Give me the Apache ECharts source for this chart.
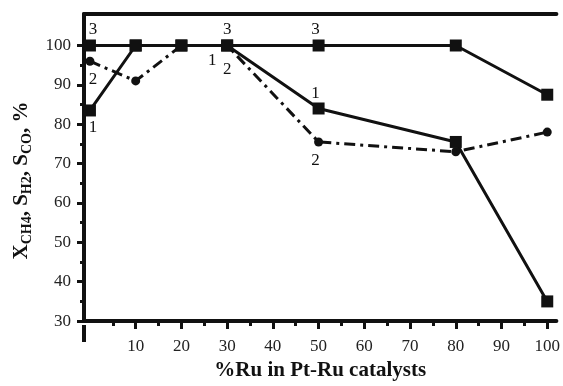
<!DOCTYPE html>
<html>
<head>
<meta charset="utf-8">
<script src="https://cdn.jsdelivr.net/npm/echarts@6/dist/echarts.min.js"></script>
<style>
  html, body { margin: 0; padding: 0; background: #fff; }
  #chart { width: 563px; height: 386px; }
</style>
</head>
<body>
<div id="chart"></div>
<script>
// % Ru in the Pt-Ru catalyst
var ruPct = [0, 10, 20, 30, 50, 80, 100];
// curve 1 (solid, squares)
var curve1 = [83.5, 100, 100, 100, 84, 75.5, 35];
// curve 2 (dash-dot, circles)
var curve2 = [96, 91, 100, 100, 75.5, 73, 78];
// curve 3 (solid, squares)
var curve3 = [100, 100, 100, 100, 100, 100, 87.5];

var xTickLabels = [10, 20, 30, 40, 50, 60, 70, 80, 90, 100];
var xMinorTicks = [5, 15, 25, 35, 45, 55, 65, 75, 85, 95];
var yTickLabels = [30, 40, 50, 60, 70, 80, 90, 100];
var yMinorTicks = [35, 45, 55, 65, 75, 85, 95];

var ink = '#111';
var serif = '"Liberation Serif", "DejaVu Serif", serif';

// curve number written next to some points: index -> offset
function withNotes(ys, name, notes) {
  return ruPct.map(function (x, i) {
    var item = { value: [x, ys[i]] };
    if (notes[i]) {
      item.label = {
        show: true,
        position: 'inside',
        offset: notes[i],
        formatter: name,
        fontFamily: serif,
        fontSize: 17,
        color: ink
      };
    }
    return item;
  });
}

var myChart = echarts.init(document.getElementById('chart'));

var option = {
  backgroundColor: '#fff',
  animation: false,
  grid: { left: 84, right: 0, top: 14, bottom: 61 },
  xAxis: [{
    type: 'value',
    min: -1.3,
    max: 102,
    position: 'bottom',
    name: '%Ru in Pt-Ru catalysts',
    nameLocation: 'middle',
    nameGap: 38,
    nameTextStyle: { fontFamily: serif, fontSize: 21, fontWeight: 'bold', color: ink },
    axisLine: { onZero: false, lineStyle: { color: ink, width: 4 } },
    axisTick: { customValues: xTickLabels, length: 8, lineStyle: { color: ink, width: 3 } },
    axisLabel: { customValues: xTickLabels, margin: 17, fontFamily: serif, fontSize: 17, color: '#222' },
    splitLine: { show: false }
  }, {
    type: 'value',
    min: -1.3,
    max: 102,
    position: 'top',
    axisLine: { onZero: false, lineStyle: { color: ink, width: 4 } },
    axisTick: { show: false },
    axisLabel: { show: false },
    splitLine: { show: false }
  }, {
    type: 'value',
    min: -1.3,
    max: 102,
    position: 'bottom',
    axisLine: { show: false, onZero: false },
    axisTick: { customValues: xMinorTicks, length: 5, lineStyle: { color: ink, width: 3 } },
    axisLabel: { show: false },
    splitLine: { show: false }
  }],
  yAxis: [{
    type: 'value',
    min: 30,
    max: 108,
    position: 'left',
    name: 'X{s|CH4}, S{s|H2}, S{s|CO}, %',
    nameLocation: 'middle',
    nameRotate: 90,
    nameGap: 50,
    nameTextStyle: {
      fontFamily: serif, fontSize: 21, fontWeight: 'bold', color: ink,
      padding: [0, 26, 0, 0],
      rich: {
        s: { fontFamily: serif, fontSize: 14, fontWeight: 'bold', color: ink, padding: [10, 0, 0, 0] }
      }
    },
    axisLine: { onZero: false, lineStyle: { color: ink, width: 4 } },
    axisTick: { customValues: yTickLabels, length: 7, lineStyle: { color: ink, width: 3 } },
    axisLabel: { customValues: yTickLabels, margin: 13, fontFamily: serif, fontSize: 17, color: '#222' },
    splitLine: { show: false }
  }, {
    type: 'value',
    min: 30,
    max: 108,
    position: 'left',
    axisLine: { show: false, onZero: false },
    axisTick: { customValues: yMinorTicks, length: 4, lineStyle: { color: ink, width: 3 } },
    axisLabel: { show: false },
    splitLine: { show: false }
  }],
  graphic: [{
    // left axis runs a little below the bottom axis
    type: 'line',
    shape: { x1: 84, y1: 325, x2: 84, y2: 342 },
    style: { stroke: ink, lineWidth: 4 }
  }],
  series: [{
    name: '1',
    type: 'line',
    data: withNotes(curve1, '1', { 0: [3, 17], 3: [-15, 15], 4: [-3, -15] }),
    symbol: 'rect',
    symbolSize: 12,
    lineStyle: { color: ink, width: 3 },
    itemStyle: { color: ink }
  }, {
    name: '2',
    type: 'line',
    data: withNotes(curve2, '2', { 0: [3, 18], 3: [0, 24], 4: [-3, 19] }),
    symbol: 'circle',
    symbolSize: 9,
    lineStyle: { color: ink, width: 3, type: [11, 5, 3, 5] },
    itemStyle: { color: ink }
  }, {
    name: '3',
    type: 'line',
    data: withNotes(curve3, '3', { 0: [3, -16], 3: [0, -16], 4: [-3, -16] }),
    symbol: 'rect',
    symbolSize: 12,
    lineStyle: { color: ink, width: 3 },
    itemStyle: { color: ink }
  }]
};

myChart.setOption(option);
</script>
</body>
</html>
